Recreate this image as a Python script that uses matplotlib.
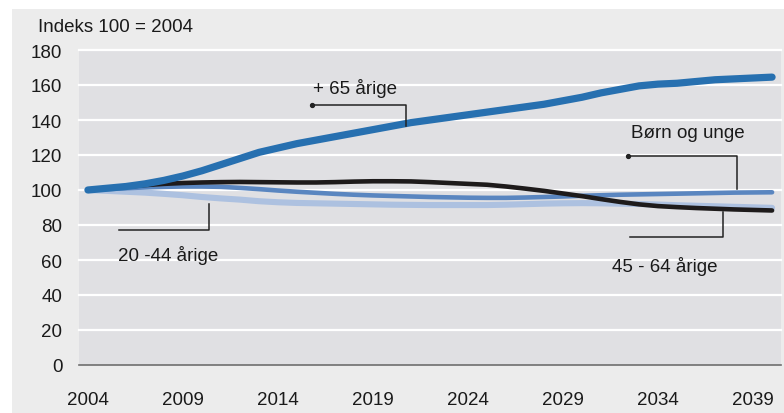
import matplotlib
matplotlib.use("Agg")
import matplotlib.pyplot as plt
from matplotlib.patches import Rectangle
from matplotlib import font_manager

names = {f.name for f in font_manager.fontManager.ttflist}
FONT = "Liberation Sans Narrow" if "Liberation Sans Narrow" in names else "Liberation Sans"
plt.rcParams['font.family'] = [FONT, 'DejaVu Sans']
FS = 13.5

years = list(range(2004, 2041))
plus65 = [100, 101, 102, 103.5, 105.5, 108, 111, 114.5, 118, 121.5, 124, 126.5, 128.5,
          130.5, 132.5, 134.5, 136.5, 138.5, 140, 141.5, 143, 144.5, 146, 147.5, 149,
          151, 153, 155.5, 157.5, 159.5, 160.5, 161, 162, 163, 163.5, 164, 164.5]
age45_64 = [100, 100.8, 101.8, 102.8, 103.5, 104, 104.3, 104.5, 104.6, 104.5, 104.4,
            104.3, 104.3, 104.5, 104.8, 105, 105, 104.9, 104.5, 104, 103.5, 103, 102,
            100.8, 99.5, 98, 96.5, 94.8, 93.2, 91.8, 90.8, 90.2, 89.7, 89.3, 88.9, 88.6, 88.3]
born = [100, 100.5, 101, 101.5, 101.8, 102, 102, 101.8, 101.2, 100.5, 99.7, 99, 98.4,
        97.8, 97.3, 96.9, 96.6, 96.3, 96, 95.8, 95.6, 95.5, 95.5, 95.7, 96, 96.3, 96.7,
        97, 97.3, 97.5, 97.7, 97.9, 98.1, 98.3, 98.5, 98.6, 98.7]
age20_44 = [100, 99.5, 99, 98.5, 97.8, 97, 96, 95.2, 94.5, 93.6, 93, 92.6, 92.4, 92.2,
            92, 91.8, 91.6, 91.5, 91.4, 91.4, 91.4, 91.4, 91.6, 91.9, 92.2, 92.4, 92.5,
            92.4, 92.2, 92, 91.7, 91.3, 91, 90.7, 90.4, 90.1, 89.8]
xticks = [2004, 2009, 2014, 2019, 2024, 2029, 2034, 2039]
yticks = list(range(0, 181, 20))

W, H = 784, 414
fig = plt.figure(figsize=(W/100, H/100), dpi=100, facecolor='white')
fig.patches.append(Rectangle((12/W, 0), 1 - 12/W, 1 - 10/H, transform=fig.transFigure,
                             facecolor='#ececec', edgecolor='none', zorder=-10))
ax = fig.add_axes([79/W, (H-366)/H, (781-79)/W, (366-51)/H])
ax.set_facecolor('#e0e0e3')
ax.set_xlim(2003.53, 2040.47)
ax.set_ylim(0, 180)
ax.set_yticks(yticks)
ax.set_xticks(xticks)
ax.tick_params(length=0, labelsize=FS, colors='#1a1a1a')
ax.tick_params(axis='y', pad=12)
ax.tick_params(axis='x', pad=19)
for y in yticks[1:]:
    ax.axhline(y, color='white', lw=1.6, zorder=1, clip_on=False)
for s in ['left', 'right', 'top']:
    ax.spines[s].set_visible(False)
ax.spines['bottom'].set_color('#6e6e6e')
ax.spines['bottom'].set_linewidth(1.2)
ax.spines['bottom'].set_zorder(2)

kw = dict(solid_capstyle='round', solid_joinstyle='round')
ax.plot(years, age20_44, color='#adc1e0', lw=4.4, zorder=3, **kw)
ax.plot(years, born, color='#5a86c0', lw=3.3, zorder=4, **kw)
ax.plot(years, age45_64, color='#1e1b1b', lw=3.3, zorder=5, **kw)
ax.plot(years, plus65, color='#2770b0', lw=5.2, zorder=6, **kw)

lc = '#222222'
def leader(xs, ys, dot=False):
    ax.plot(xs, ys, color=lc, lw=1.1, zorder=7)
    if dot:
        ax.plot([xs[0]], [ys[0]], 'o', color=lc, ms=2.8, zorder=7)

leader([2015.79, 2020.74, 2020.74], [148.7, 148.7, 136.7], dot=True)
ax.text(2015.84, 158.3, '+ 65 årige', fontsize=FS, va='center', ha='left', color='#1a1a1a')
leader([2032.42, 2038.16, 2038.16], [119.3, 119.3, 100.6], dot=True)
ax.text(2032.58, 133.1, 'Børn og unge', fontsize=FS, va='center', ha='left', color='#1a1a1a')
leader([2032.53, 2037.42, 2037.42], [73.1, 73.1, 87.4])
ax.text(2031.6, 56.6, '45 - 64 årige', fontsize=FS, va='center', ha='left', color='#1a1a1a')
leader([2005.63, 2010.37, 2010.37], [77.3, 77.3, 92])
ax.text(2005.58, 62.9, '20 -44 årige', fontsize=FS, va='center', ha='left', color='#1a1a1a')

fig.text(38/W, 1 - 19/H, 'Indeks 100 = 2004', fontsize=FS, va='top', ha='left', color='#1a1a1a')

fig.savefig('out.png', dpi=100, facecolor='white')
